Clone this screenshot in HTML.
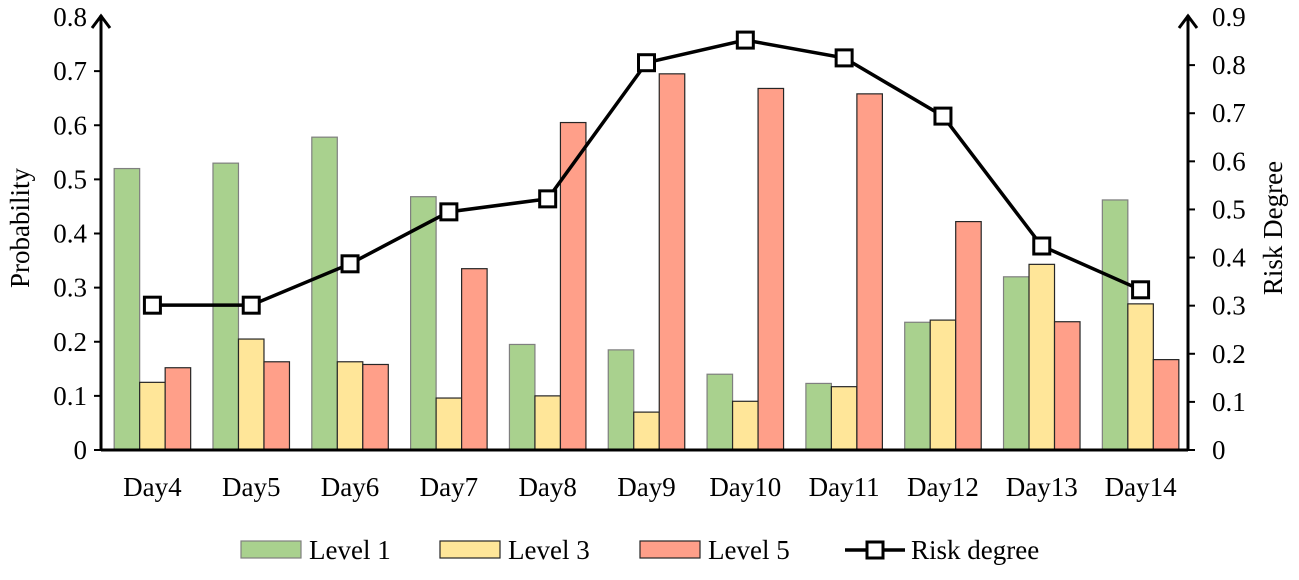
<!DOCTYPE html>
<html><head><meta charset="utf-8"><style>
body{margin:0;background:#fff;}
svg text{font-family:"Liberation Serif",serif;fill:#000;}
</style></head><body>
<svg id="c" width="1299" height="575" viewBox="0 0 1299 575"></svg>
<script>
const categories=["Day4","Day5","Day6","Day7","Day8","Day9","Day10","Day11","Day12","Day13","Day14"];
const level1=[0.52,0.53,0.578,0.468,0.195,0.185,0.14,0.123,0.236,0.32,0.462];
const level3=[0.125,0.205,0.163,0.096,0.1,0.07,0.09,0.117,0.24,0.343,0.27];
const level5=[0.152,0.163,0.158,0.335,0.605,0.695,0.668,0.658,0.422,0.237,0.167];
const risk=[0.301,0.301,0.387,0.495,0.522,0.805,0.852,0.815,0.694,0.424,0.333];
const leftTicks=["0","0.1","0.2","0.3","0.4","0.5","0.6","0.7","0.8"];
const rightTicks=["0","0.1","0.2","0.3","0.4","0.5","0.6","0.7","0.8","0.9"];
const NS="http://www.w3.org/2000/svg";
const svg=document.getElementById('c');
const L=101,R=1188,B=450,T=17;
const band=(R-L)/categories.length;
const yL=v=>B-(v/0.8)*(B-T);
const yR=v=>B-(v/0.9)*(B-T);
const xC=i=>L+band*(i+0.5)+2;
function mk(tag,a,txt){const e=document.createElementNS(NS,tag);for(const k in a)e.setAttribute(k,a[k]);if(txt!==undefined)e.textContent=txt;svg.appendChild(e);return e;}
const series=[[level1,"#a9d18e","#7f7f7f","level1"],[level3,"#ffe699","#262626","level3"],[level5,"#ff9f89","#262626","level5"]];
const bw=25.5;
series.forEach((s,si)=>{s[0].forEach((v,i)=>{
 const x=xC(i)+(si-1.5)*bw;
 const r=mk('rect',{x:x,y:yL(v),width:bw,height:B-yL(v),fill:s[1],stroke:s[2],'stroke-width':1.2});
 
 
});});
let a=mk('line',{x1:L,y1:B,x2:R,y2:B,stroke:'#000','stroke-width':3});
a=mk('line',{x1:L,y1:B,x2:L,y2:T-2,stroke:'#000','stroke-width':3});
a=mk('line',{x1:R,y1:B,x2:R,y2:T-2,stroke:'#000','stroke-width':3});
mk('path',{d:`M${L-9} ${T+11} L${L} ${T-1} L${L+9} ${T+11}`,fill:'none',stroke:'#000','stroke-width':3});
mk('path',{d:`M${R-9} ${T+11} L${R} ${T-1} L${R+9} ${T+11}`,fill:'none',stroke:'#000','stroke-width':3});
leftTicks.forEach((t,i)=>{const y=yL(i*0.1);
 if(i<8)mk('line',{x1:L-7,y1:y,x2:L,y2:y,stroke:'#000','stroke-width':2});
 const e=mk('text',{x:L-14,y:y+9,'text-anchor':'end','font-size':27},t);
 });
rightTicks.forEach((t,i)=>{const y=yR(i*0.1);
 if(i<9)mk('line',{x1:R,y1:y,x2:R+7,y2:y,stroke:'#000','stroke-width':2});
 const e=mk('text',{x:R+24,y:y+9,'text-anchor':'start','font-size':27},t);
 });
categories.forEach((c,i)=>{const e=mk('text',{x:xC(i),y:496,'text-anchor':'middle','font-size':27},c);
 });
let t=mk('text',{x:0,y:0,'text-anchor':'middle','font-size':27,transform:'translate(29,228) rotate(-90)'},'Probability');

t=mk('text',{x:0,y:0,'text-anchor':'middle','font-size':27,transform:'translate(1282,228) rotate(-90)'},'Risk Degree');

const pts=risk.map((v,i)=>`${xC(i)},${yR(v)}`).join(' ');
const pl=mk('polyline',{points:pts,fill:'none',stroke:'#000','stroke-width':3.5});

risk.forEach((v,i)=>{const m=mk('rect',{x:xC(i)-8,y:yR(v)-8,width:16,height:16,fill:'#fff',stroke:'#000','stroke-width':3});
 });
const leg=[["Level 1","#a9d18e","#7f7f7f",241],["Level 3","#ffe699","#262626",440],["Level 5","#ff9f89","#262626",640]];
leg.forEach(l=>{const g=mk('rect',{x:l[3],y:541,width:60,height:17,fill:l[1],stroke:l[2],'stroke-width':1.2});
 
 const e=mk('text',{x:l[3]+68,y:559,'font-size':27},l[0]);});
mk('line',{x1:845,y1:550,x2:905,y2:550,stroke:'#000','stroke-width':3.5});
mk('rect',{x:867,y:542,width:16,height:16,fill:'#fff',stroke:'#000','stroke-width':3});
t=mk('text',{x:911,y:559,'font-size':27},'Risk degree');
</script>
</body></html>
